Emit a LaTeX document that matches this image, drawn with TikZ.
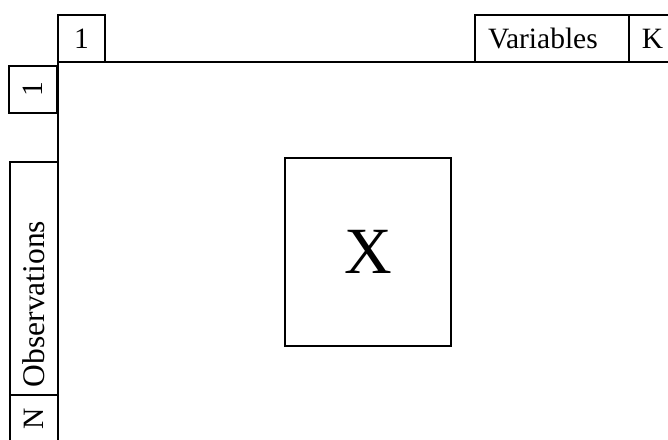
\documentclass[tikz,border=0pt]{standalone}
\usepackage{fontspec}
\setmainfont{Liberation Serif}
\begin{document}
\begin{tikzpicture}[x=1pt,y=-1pt,
  lbl/.style={draw,line width=1.1pt,inner sep=0pt,font=\fontsize{29.5}{31}\selectfont},
  leftlbl/.style={lbl,align=left,inner xsep=#1},
  axis/.style={line width=1.3pt}]
\useasboundingbox (0,0) rectangle (668,439);
\clip (0,0) rectangle (668,439);
\node[lbl,minimum width=47,minimum height=47] (c1) at (81.5,38.5) {1};
\node[leftlbl=13,text width=128,minimum height=47] (var) at (552,38.5) {Variables};
\node[lbl,minimum width=47,minimum height=47] (ck) at (652.5,38.5) {K};
\node[lbl,rotate=90,minimum width=47,minimum height=48] (r1) at (33,89.5) {1};
\node[leftlbl=8,rotate=90,text width=217,minimum height=48,font=\fontsize{31.5}{33}\selectfont] (obs) at (34,278.5) {Observations};
\node[lbl,rotate=90,minimum width=47,minimum height=48] (rn) at (34,418.5) {N};
\node[draw,line width=1.1pt,minimum width=166,minimum height=188,inner sep=0pt,font=\fontsize{66}{68}\selectfont] (X) at (368,252) {X};
\coordinate (o) at (58,62);
\coordinate (tr) at (668,62);
\coordinate (bl) at (58,439);
\draw[axis] (tr) -- (o) -- (bl);
\end{tikzpicture}
\end{document}
